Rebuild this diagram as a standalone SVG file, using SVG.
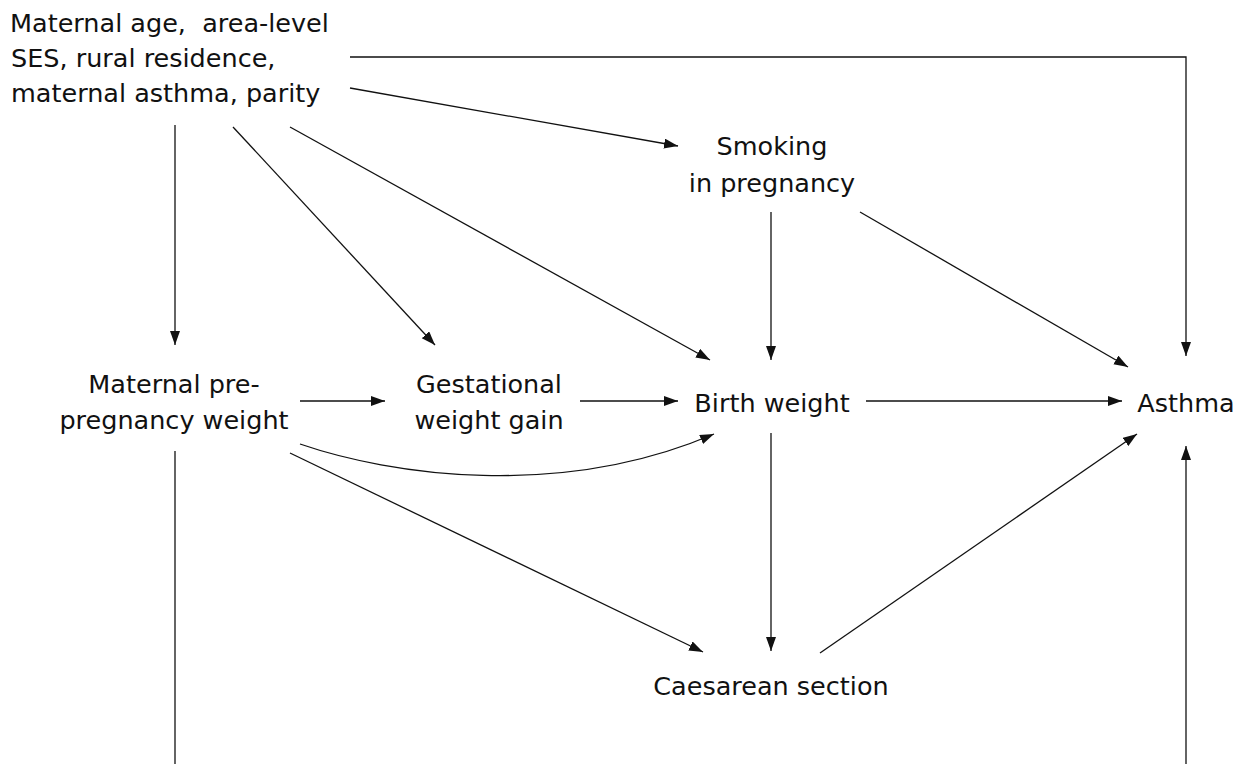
<svg xmlns="http://www.w3.org/2000/svg" width="1247" height="764" viewBox="0 0 1247 764">
<style>
.t{font-family:"DejaVu Sans","Liberation Sans",sans-serif;font-size:25.5px;fill:#111}
.c{text-anchor:middle}
.e{fill:none;stroke:#111;stroke-width:1.3}
</style>
<defs>
<marker id="a" markerUnits="userSpaceOnUse" markerWidth="15" markerHeight="11" refX="14" refY="5" orient="auto">
<path d="M0,0 L14,5 L0,10 z" fill="#111"/>
</marker>
</defs>
<rect width="1247" height="764" fill="#fff"/>
<g id="connectors">
<path class="e" d="M350,57 H1186 V356" marker-end="url(#a)"/>
<path class="e" d="M350,88 L678,146" marker-end="url(#a)"/>
<path class="e" d="M175,125 V345" marker-end="url(#a)"/>
<path class="e" d="M233,127 L435,345" marker-end="url(#a)"/>
<path class="e" d="M290,127 L710,360" marker-end="url(#a)"/>
<path class="e" d="M771,212 V360" marker-end="url(#a)"/>
<path class="e" d="M860,212 L1128,367" marker-end="url(#a)"/>
<path class="e" d="M300,401 H385" marker-end="url(#a)"/>
<path class="e" d="M580,401 H678" marker-end="url(#a)"/>
<path class="e" d="M866,401 H1122" marker-end="url(#a)"/>
<path class="e" d="M300,444 C390,475 560,500 714,434" marker-end="url(#a)"/>
<path class="e" d="M290,453 L703,652" marker-end="url(#a)"/>
<path class="e" d="M771,433 V651" marker-end="url(#a)"/>
<path class="e" d="M820,653 L1137,434" marker-end="url(#a)"/>
<path class="e" d="M175,451 V764"/>
<path class="e" d="M1186,764 V446" marker-end="url(#a)"/>
</g>
<g id="confounders">
<text class="t" x="10" y="32" xml:space="preserve">Maternal age,  area-level</text>
<text class="t" x="11" y="67">SES, rural residence,</text>
<text class="t" x="11" y="102">maternal asthma, parity</text>
</g>
<g id="smoking">
<text class="t c" x="772" y="155">Smoking</text>
<text class="t c" x="772" y="192">in pregnancy</text>
</g>
<g id="prepregnancy">
<text class="t c" x="174" y="393">Maternal pre-</text>
<text class="t c" x="174" y="429">pregnancy weight</text>
</g>
<g id="gestational">
<text class="t c" x="489" y="393">Gestational</text>
<text class="t c" x="489" y="429">weight gain</text>
</g>
<g id="birthweight">
<text class="t c" x="772" y="412">Birth weight</text>
</g>
<g id="asthma">
<text class="t c" x="1186" y="412">Asthma</text>
</g>
<g id="caesarean">
<text class="t c" x="771" y="695">Caesarean section</text>
</g>
</svg>
